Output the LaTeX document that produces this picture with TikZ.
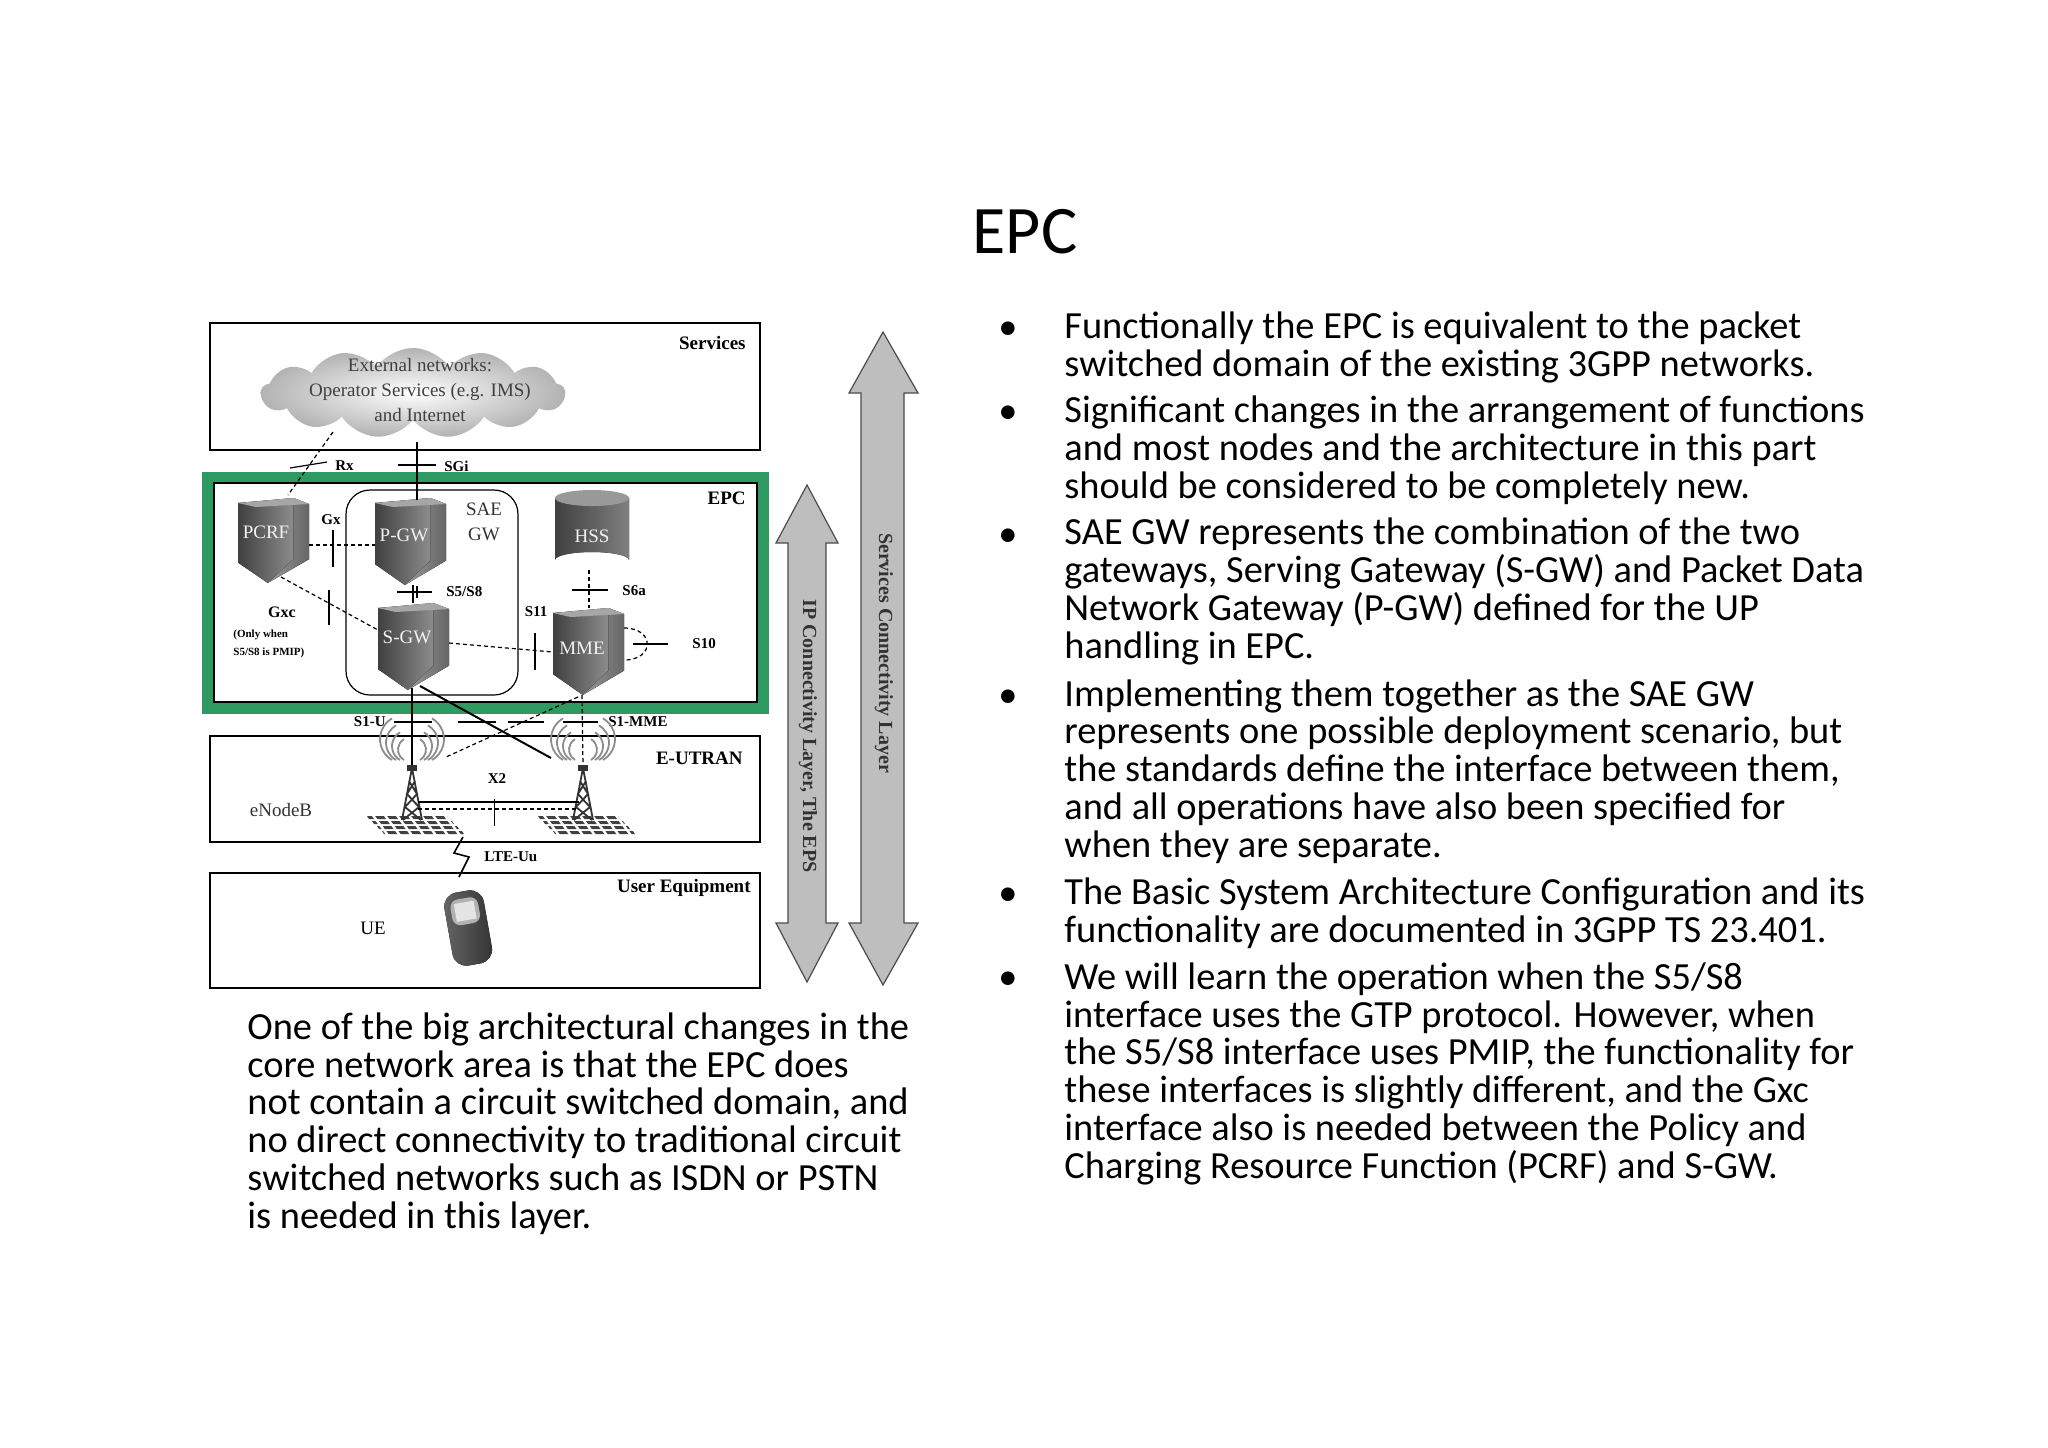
\documentclass[tikz,border=0pt]{standalone}
\usepackage{fontspec}
\setmainfont{Liberation Serif}
\newfontfamily\calfont{Carlito}
\usetikzlibrary{shapes.symbols}
\definecolor{epcgreen}{HTML}{2E9A62}
\definecolor{arrgray}{HTML}{BEBEBE}
\tikzset{
 lbl/.style={font=\fontsize{7.5}{8}\selectfont\bfseries,inner sep=1pt},
 biglbl/.style={font=\fontsize{9.5}{10}\selectfont\bfseries,inner sep=1pt},
 dev/.style={font=\fontsize{9.5}{10}\selectfont,text=gray!10,inner sep=0},
 conn/.style={line width=0.6pt},
 dconn/.style={line width=0.6pt,dash pattern=on 2pt off 1.5pt},
 tick/.style={line width=0.6pt},
 layer/.style={draw,line width=0.7pt},
 bul/.style={font=\calfont\fontsize{19.2}{18.85}\selectfont,anchor=base west,align=left,inner sep=0},
 bigarrow/.style={fill=arrgray,draw=black!70,line width=0.6pt}
}
% device: #1 left, #2 top, #3 w, #4 h
\newcommand\devshape[4]{%
 \fill[left color=black!75,right color=black!45] (#1,#2+5) -- (#1+0.78*#3,#2) -- (#1+0.78*#3,#2+0.72*#4) -- (#1+0.42*#3,#2+#4) -- (#1,#2+0.76*#4) -- cycle;
 \fill[left color=black!40,right color=black!60] (#1+0.78*#3,#2) -- (#1+#3,#2+6) -- (#1+#3,#2+0.72*#4) -- (#1+0.42*#3,#2+#4) -- (#1+0.78*#3,#2+0.72*#4) -- cycle;
 \fill[black!35] (#1,#2+5) -- (#1+0.78*#3,#2) -- (#1+#3,#2+6) -- (#1+0.25*#3,#2+9) -- cycle;
}
\newcommand\tower[1]{%
 \foreach \r in {0,1,2,3}{\fill[black!75] (#1-45+\r*5,816+\r*5) -- (#1+35+\r*5,816+\r*5) -- (#1+37+\r*5,819+\r*5) -- (#1-43+\r*5,819+\r*5) -- cycle;}
 \foreach \c in {-40,-28,...,40}{\draw[white,line width=1.2pt] (#1+\c,814) -- (#1+\c+18,838);}
 \draw[line width=0.9pt,black!80] (#1,768) -- (#1-10,820) (#1,768) -- (#1+10,820) (#1-3,781) -- (#1+5,794) -- (#1-7,807) -- (#1+9,820) (#1+3,781) -- (#1-5,794) -- (#1+7,807) -- (#1-9,820);
 \fill[black!80] (#1-5,765) rectangle (#1+5,771);
 \foreach \k in {1,2,3,4}{\draw[black!45,line width=0.9pt] (#1-4-4*\k,760) arc[start angle=120,end angle=240,radius=8+4*\k];
  \draw[black!45,line width=0.9pt] (#1+4+4*\k,760) arc[start angle=60,end angle=-60,radius=8+4*\k];}
}
\begin{document}
\begin{tikzpicture}[x=0.5pt,y=-0.5pt]
\useasboundingbox (0,0) rectangle (2048,1447);
\fill[white] (0,0) rectangle (2048,1447);
% layer boxes
\draw[layer] (210,323) rectangle (760,450);
\node[biglbl,anchor=east] (serv) at (748,343) {Services};
\draw[layer] (210,736) rectangle (760,842);
\node[biglbl,anchor=east] (eutran) at (745,758) {E-UTRAN};
\draw[layer] (210,873) rectangle (760,988);
\node[biglbl,anchor=east] (uelbl) at (753,888) {User Equipment};
% cloud
\node[cloud,cloud puffs=13,cloud puff arc=110,aspect=3.4,inner sep=0,minimum width=152pt,minimum height=45pt,
 inner color=white,outer color=black!30] (cloud) at (413,393) {};
\node[font=\fontsize{9.5}{12.5}\selectfont,align=center,text=black!75] (cloudtxt) at (420,390) {External networks:\\Operator Services (e.g. IMS)\\and Internet};
% EPC box
\draw[epcgreen,line width=5.5pt] (207.5,477) rectangle (763,708);
\draw[line width=0.6pt] (214,483) rectangle (757,702);
\node[biglbl,anchor=east] (epclbl) at (748,498) {EPC};
% SAE GW box
\draw[line width=0.6pt,rounded corners=12pt] (346,490) rectangle (518,695);
\node[font=\fontsize{9.5}{12.5}\selectfont,align=center,text=black!80] (saegw) at (484,522) {SAE\\GW};
% devices
\devshape{238}{498}{71}{85}
\devshape{375}{498}{71}{87}
\devshape{378}{603}{71}{87}
\devshape{553}{608}{71}{87}
\node[dev] (pcrf) at (266,532) {PCRF};
\node[dev] (pgw) at (404,535) {P-GW};
\node[dev] (sgw) at (407,637) {S-GW};
\node[dev] (mme) at (582,648) {MME};
% HSS
\fill[left color=black!75,right color=black!50] (555,498) -- (555,560) arc[start angle=180,end angle=360,x radius=37,y radius=8] -- (629,498) -- cycle;
\fill[black!40] (592,498) ellipse[x radius=37,y radius=8];
\node[dev] (hss) at (592,536) {HSS};
% coordinates
\coordinate (cloudS) at (417,442);
\coordinate (cloudRx) at (333,432);
\coordinate (pcrfT) at (288,495);
\coordinate (pcrfR) at (309,545);
\coordinate (pcrfB) at (281,577);
\coordinate (pgwT) at (417,500);
\coordinate (pgwL) at (375,545);
\coordinate (pgwB) at (413,585);
\coordinate (sgwT) at (413,603);
\coordinate (sgwL) at (378,630);
\coordinate (sgwR) at (449,643);
\coordinate (sgwB) at (412,688);
\coordinate (sgwB2) at (420,686);
\coordinate (mmeL) at (553,652);
\coordinate (mmeT) at (589,608);
\coordinate (mmeB) at (582,695);
\coordinate (mmeB2) at (578,697);
\coordinate (hssB) at (589,570);
\coordinate (mmeR1) at (624,628);
\coordinate (mmeR2) at (624,660);
\coordinate (enbL) at (412,766);
\coordinate (enbLr) at (446,757);
\coordinate (enbR) at (583,766);
\coordinate (enbRl) at (551,758);
% connectors
\draw[conn] (cloudS) -- (pgwT);
\draw[tick] (398,465) -- (436,465);
\node[lbl,anchor=west] (sgilbl) at (442,466) {SGi};
\draw[dconn] (cloudRx) -- (pcrfT);
\draw[tick] (290,468) -- (327,462);
\node[lbl,anchor=west] (rxlbl) at (333,466) {Rx};
\draw[dconn] (pcrfR) -- (pgwL);
\draw[tick] (333,530) -- (333,567);
\node[lbl] (gxlbl) at (331,520) {Gx};
\draw[dconn] (pcrfB) -- (sgwL);
\draw[tick] (329,590) -- (329,625);
\node[lbl,font=\fontsize{8}{9}\selectfont\bfseries] (gxclbl) at (282,612) {Gxc};
\node[font=\fontsize{5.5}{9}\selectfont\bfseries,align=left,anchor=west,inner sep=0] (onlylbl) at (233,644) {(Only when\\S5/S8 is PMIP)};
\draw[conn] (pgwB) -- (sgwT);
\draw[tick] (397,592) -- (432,592);
\draw[tick] (417,586) -- (417,598);
\node[lbl,anchor=west] (s58lbl) at (444,592) {S5/S8};
\draw[dconn] (hssB) -- (mmeT);
\draw[tick] (572,590) -- (608,590);
\node[lbl,anchor=west] (s6alabel) at (620,591) {S6a};
\draw[dconn] (sgwR) -- (mmeL);
\draw[tick] (535,633) -- (535,670);
\node[lbl] (s11lbl) at (536,612) {S11};
\draw[dconn] (mmeR1) .. controls (655,628) and (655,660) .. (mmeR2);
\draw[tick] (633,644) -- (668,644);
\node[lbl,anchor=west] (s10lbl) at (690,644) {S10};
\draw[conn] (sgwB) -- (enbL);
\draw[tick] (394,722) -- (432,722);
\node[lbl,anchor=east] (s1ulbl) at (388,722) {S1-U};
\draw[dconn] (mmeB) -- (enbR);
\draw[tick] (563,722) -- (598,722);
\node[lbl,anchor=west] (s1mlbl) at (606,722) {S1-MME};
\draw[conn,line width=1pt] (sgwB2) -- (enbRl);
\draw[tick] (458,722) -- (496,722);
\draw[dconn] (mmeB2) -- (enbLr);
\draw[tick] (508,722) -- (544,722);
% eNodeBs
\tower{412}
\tower{583}
\node[font=\fontsize{9.5}{10}\selectfont,text=black!80] (enblbl) at (281,810) {eNodeB};
\coordinate (x2a) at (418,802); \coordinate (x2b) at (579,802);
\draw[line width=1pt] (x2a) -- (x2b);
\draw[dconn,line width=0.8pt] (418,809) -- (579,809);
\draw[line width=0.3pt] (494,799) -- (494,826);
\node[lbl] (x2lbl) at (497,779) {X2};
% LTE-Uu
\coordinate (luA) at (463,837); \coordinate (luB) at (459,877);
\draw[line width=0.8pt] (luA) -- (454,853) -- (469,857) -- (luB);
\node[lbl,anchor=west] (lteuu) at (482,857) {LTE-Uu};
% UE
\node[font=\fontsize{9.5}{10}\selectfont] (uetxt) at (373,928) {UE};
\begin{scope}[shift={(468,927)},rotate=10]
\fill[left color=black!60,right color=black!80,rounded corners=7pt] (-20,-36) rectangle (20,38);
\fill[black!30,rounded corners=4pt] (-14,-29) rectangle (14,-3);
\fill[black!10] (-10,-25) rectangle (10,-7);
\end{scope}
% big arrows
\path[bigarrow] (807,485) -- (838,543) -- (826,543) -- (826,923) -- (838,923) -- (807,982) -- (776,923) -- (788,923) -- (788,543) -- (776,543) -- cycle;
\node[rotate=-90,font=\fontsize{10}{10}\selectfont\bfseries,text=black!80] (iplbl) at (808,736) {IP Connectivity Layer, The EPS};
\path[bigarrow] (883,332) -- (918,393) -- (904,393) -- (904,923) -- (918,923) -- (883,985) -- (849,923) -- (861,923) -- (861,393) -- (849,393) -- cycle;
\node[rotate=-90,font=\fontsize{10}{10}\selectfont\bfseries,text=black!80] (svlbl) at (884,653) {Services Connectivity Layer};
% text
\node[font=\calfont\fontsize{34}{34}\selectfont] (title) at (1025,232) {EPC};
\foreach \yy in {339,423,546,707,905,989}{\node[bul,anchor=base] at (1008,\yy) {•};}
\node[bul] (b1) at (1064,376) {Functionally the EPC is equivalent to the packet\\switched domain of the existing 3GPP networks.};
\node[bul] (b2) at (1064,498) {Significant changes in the arrangement of functions\\and most nodes and the architecture in this part\\should be considered to be completely new.};
\node[bul] (b3) at (1064,658) {SAE GW represents the combination of the two\\gateways, Serving Gateway (S-GW) and Packet Data\\Network Gateway (P-GW) defined for the UP\\handling in EPC.};
\node[bul] (b4) at (1064,857) {Implementing them together as the SAE GW\\represents one possible deployment scenario, but\\the standards define the interface between them,\\and all operations have also been specified for\\when they are separate.};
\node[bul] (b5) at (1064,942) {The Basic System Architecture Configuration and its\\functionality are documented in 3GPP TS 23.401.};
\node[bul] (b6) at (1064,1178) {We will learn the operation when the S5/S8\\interface uses the GTP protocol. However, when\\the S5/S8 interface uses PMIP, the functionality for\\these interfaces is slightly different, and the Gxc\\interface also is needed between the Policy and\\Charging Resource Function (PCRF) and S-GW.};
\node[bul] (para) at (247,1228) {One of the big architectural changes in the\\core network area is that the EPC does\\not contain a circuit switched domain, and\\no direct connectivity to traditional circuit\\switched networks such as ISDN or PSTN\\is needed in this layer.};
\end{tikzpicture}
\end{document}
